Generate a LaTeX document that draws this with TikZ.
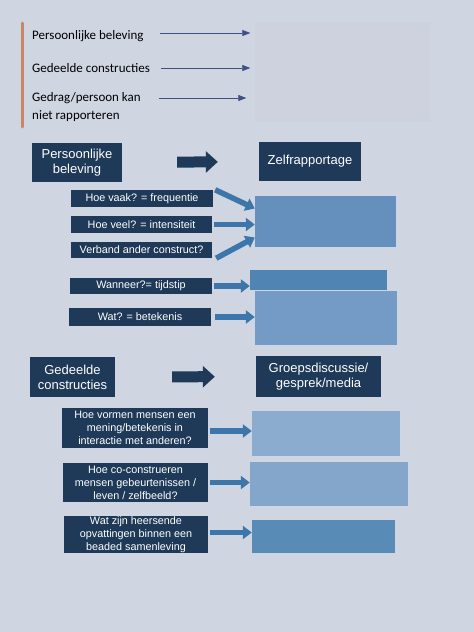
\documentclass[tikz,border=0pt]{standalone}
\usepackage{fontspec}
\setmainfont{Liberation Sans}
\newfontfamily\calfont{Carlito}
\usetikzlibrary{arrows.meta}
\definecolor{paper}{HTML}{CFD5E1}
\definecolor{navy}{HTML}{1E3A58}
\definecolor{midblue}{HTML}{3C76AA}
\definecolor{linkblue}{HTML}{3F4F88}
\definecolor{bar}{HTML}{C8866A}
\definecolor{haze}{HTML}{6590BE}
\begin{document}
\begin{tikzpicture}
    [x=1pt, y=-1pt,
    every node/.style={inner sep=0pt, align=center},
    titlebox/.style={fill=navy, text=white, font=\fontsize{13}{15}\selectfont},
    qbox/.style={fill=navy, text=white, font=\fontsize{10.8}{13}\selectfont},
    blurbox/.style={fill=haze},
    note/.style={anchor=west, align=left, font=\calfont\fontsize{13}{18}\selectfont},
    thinarrow/.style={draw=linkblue, semithick, -{Triangle[length=8pt,width=6pt]}},
    fatarrow/.style={draw=midblue, line width=5.5pt, -{Triangle[length=9pt,width=13pt]}},
    bigarrow/.style={draw=navy, line width=11pt, -{Triangle[length=12pt,width=21pt]}},
    ]
    \fill[paper] (0,0) rectangle (474,632);
    \useasboundingbox (0,0) rectangle (474,632);
    % legend at the top
    \draw[bar, line width=3pt, line cap=round] (22,23) -- (22,127);
    \node[note] (t1) at (32,36) {Persoonlijke beleving};
    \node[note] (t2) at (32,68) {Gedeelde constructies};
    \node[note] (t3) at (32,107) {Gedrag/persoon kan\\niet rapporteren};
    \node[fill=black!30, opacity=.06, minimum width=175, minimum height=98] (tb) at (342,72) {};
    \draw[thinarrow] ([xshift=16pt,yshift=3pt]t1.east) -- ([xshift=-4pt,yshift=3pt]t1.east -| tb.west);
    \draw[thinarrow] ([xshift=11pt]t2.east) -- ([xshift=-4pt]t2.east -| tb.west);
    \draw[thinarrow] ([xshift=18pt,yshift=9pt]t3.east) -- ([xshift=-8pt,yshift=9pt]t3.east -| tb.west);
    % zelfrapportage
    \node[titlebox, minimum width=90, minimum height=39] (pb) at (77,162.5) {Persoonlijke\\beleving};
    \node[titlebox, minimum width=102, minimum height=39] (zr) at (310,161.5) {Zelfrapportage};
    \draw[bigarrow, shorten <=55pt, shorten >=41pt] (pb) -- (zr);
    \node[qbox, minimum width=142, minimum height=17] (q1) at (142,198.5) {Hoe vaak? = frequentie};
    \node[qbox, minimum width=141, minimum height=17] (q2) at (141.5,224.5) {Hoe veel? = intensiteit};
    \node[qbox, minimum width=141, minimum height=16] (q3) at (141.5,250) {Verband ander construct?};
    \node[qbox, minimum width=142, minimum height=16] (q4) at (141,286) {Wanneer?= tijdstip};
    \node[qbox, minimum width=142, minimum height=18] (q5) at (140,317) {Wat? = betekenis};
    \node[blurbox, minimum width=141, minimum height=51] (b1) at (325.5,221.5) {};
    \node[blurbox, fill=midblue!90, minimum width=137, minimum height=20] (b2) at (318.5,280) {};
    \node[blurbox, fill=haze!90!white, minimum width=142, minimum height=54] (b3) at (326,318) {};
    \draw[fatarrow] ([xshift=2pt]q1.north east) -- ([yshift=13pt]b1.west);
    \draw[fatarrow] ([xshift=2pt]q2.east) -- (q2.east -| b1.west);
    \draw[fatarrow] ([xshift=4pt]q3.south east) -- ([yshift=-16pt]b1.west);
    \draw[fatarrow] ([xshift=2pt]q4.east) -- (q4.east -| b2.west);
    \draw[fatarrow] ([xshift=4pt]q5.east) -- (q5.east -| b3.west);
    % groepsdiscussie
    \node[titlebox, minimum width=85, minimum height=40] (gc) at (72.5,377) {Gedeelde\\constructies};
    \node[titlebox, minimum width=125, minimum height=41] (gd) at (318.5,376.5) {Groepsdiscussie/\\gesprek/media};
    \draw[bigarrow, shorten <=57pt, shorten >=41pt] (gc) -- (gd);
    \node[qbox, minimum width=146, minimum height=40] (v1) at (135,428) {Hoe vormen mensen een\\mening/betekenis in\\interactie met anderen?};
    \node[qbox, minimum width=145, minimum height=39] (v2) at (135.5,482.5) {Hoe co-construeren\\mensen gebeurtenissen /\\leven / zelfbeeld?};
    \node[qbox, minimum width=144, minimum height=37] (v3) at (136,534.5) {Wat zijn heersende\\opvattingen binnen een\\beaded samenleving};
    \node[blurbox, fill=haze!75!white, minimum width=148, minimum height=45] (b4) at (326,433.5) {};
    \node[blurbox, fill=haze!80!white, minimum width=158, minimum height=44] (b5) at (329,484) {};
    \node[blurbox, fill=midblue!85, minimum width=143, minimum height=33] (b6) at (323.5,536.5) {};
    \draw[fatarrow] ([xshift=2pt,yshift=-3pt]v1.east) -- ([yshift=-3pt]v1.east -| b4.west);
    \draw[fatarrow] ([xshift=2pt]v2.east) -- (v2.east -| b5.west);
    \draw[fatarrow] ([xshift=2pt,yshift=2pt]v3.east) -- ([yshift=2pt]v3.east -| b6.west);
  \end{tikzpicture}
\end{document}
